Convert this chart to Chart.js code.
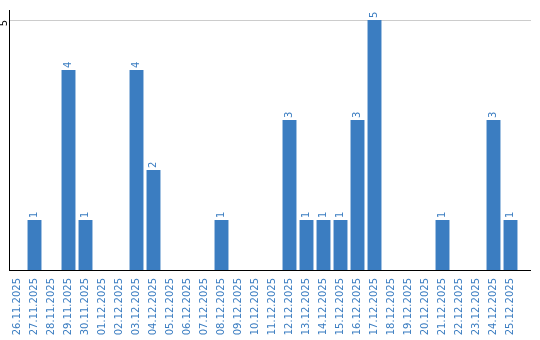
<!DOCTYPE html>
<html>
<head>
<meta charset="utf-8">
<script src="https://cdn.jsdelivr.net/npm/chart.js@4"></script>
<style>
  body { margin: 0; background: #fff; }
  #wrap { width: 540px; height: 340px; }
</style>
</head>
<body>
<div id="wrap"><canvas id="dayChart"></canvas></div>
<script>
const labels = ['26.11.2025', '27.11.2025', '28.11.2025', '29.11.2025', '30.11.2025', '01.12.2025',
  '02.12.2025', '03.12.2025', '04.12.2025', '05.12.2025', '06.12.2025', '07.12.2025', '08.12.2025',
  '09.12.2025', '10.12.2025', '11.12.2025', '12.12.2025', '13.12.2025', '14.12.2025', '15.12.2025',
  '16.12.2025', '17.12.2025', '18.12.2025', '19.12.2025', '20.12.2025', '21.12.2025', '22.12.2025',
  '23.12.2025', '24.12.2025', '25.12.2025'];
const counts = [0, 1, 0, 4, 1, 0, 0, 4, 2, 0, 0, 0, 1, 0, 0, 0, 3, 1, 1, 1, 3, 5, 0, 0, 0, 1, 0, 0, 3, 1];
const yTicks = [5];

const blue = '#3b7dc1';
const font = 'DejaVu Sans';
const lineEnd = 531; // grid + x axis run a bit past the last bar

// the axis lines keep going a little to the right of the bars
const extendLines = {
    id: 'extendLines',
    beforeDatasetsDraw(chart) {
        const ctx = chart.ctx;
        const area = chart.chartArea;
        const y = chart.scales.y;
        ctx.save();
        ctx.lineWidth = 1;
        ctx.strokeStyle = '#cccccc';
        yTicks.forEach(v => {
            const py = Math.round(y.getPixelForValue(v)) + 0.5;
            ctx.beginPath();
            ctx.moveTo(area.right - 1, py);
            ctx.lineTo(lineEnd, py);
            ctx.stroke();
        });
        ctx.strokeStyle = '#000';
        const by = Math.round(area.bottom) + 0.5;
        ctx.beginPath();
        ctx.moveTo(area.right - 1, by);
        ctx.lineTo(lineEnd, by);
        ctx.stroke();
        ctx.restore();
    }
};

// all text on this chart is vertical, so draw it here
const rotatedText = {
    id: 'rotatedText',
    afterDatasetsDraw(chart) {
        const ctx = chart.ctx;
        const meta = chart.getDatasetMeta(0);
        const x = chart.scales.x;
        const y = chart.scales.y;
        const put = (txt, px, py, align) => {
            ctx.save();
            ctx.translate(px, py);
            ctx.rotate(-Math.PI / 2);
            ctx.textAlign = align;
            ctx.fillText(txt, 0, 0);
            ctx.restore();
        };
        ctx.save();
        ctx.font = '10px "' + font + '"';
        ctx.textBaseline = 'middle';
        ctx.fillStyle = blue;
        meta.data.forEach((bar, i) => {
            if (counts[i]) put(String(counts[i]), bar.x, bar.y - 2, 'left');
        });
        labels.forEach((lab, i) => {
            put(lab, x.getPixelForTick(i), x.top + 8, 'right');
        });
        ctx.fillStyle = '#000';
        yTicks.forEach(v => put(String(v), 4.5, y.getPixelForValue(v), 'right'));
        ctx.restore();
    }
};

const ctx = document.getElementById('dayChart').getContext('2d');
const chart = new Chart(ctx, {
    type: 'bar',
    data: {
        labels: labels,
        datasets: [{
            data: counts,
            backgroundColor: blue,
            barPercentage: 0.82,
            categoryPercentage: 1.0
        }]
    },
    options: {
        responsive: true,
        maintainAspectRatio: false,
        animation: false,
        layout: {
            padding: { left: 9, right: 21, top: 10, bottom: 0 }
        },
        plugins: {
            legend: { display: false },
            tooltip: { enabled: false }
        },
        scales: {
            x: {
                grid: { display: false },
                border: { display: true, color: '#000', width: 1 },
                afterFit: (scale) => { scale.height = 70; },
                ticks: { display: false }
            },
            y: {
                min: 0,
                max: 5.2,
                afterBuildTicks: (scale) => { scale.ticks = yTicks.map(v => ({ value: v })); },
                grid: { color: '#cccccc', drawTicks: false },
                border: { display: true, color: '#000', width: 1 },
                ticks: { display: false }
            }
        }
    },
    plugins: [extendLines, rotatedText]
});
</script>
</body>
</html>
